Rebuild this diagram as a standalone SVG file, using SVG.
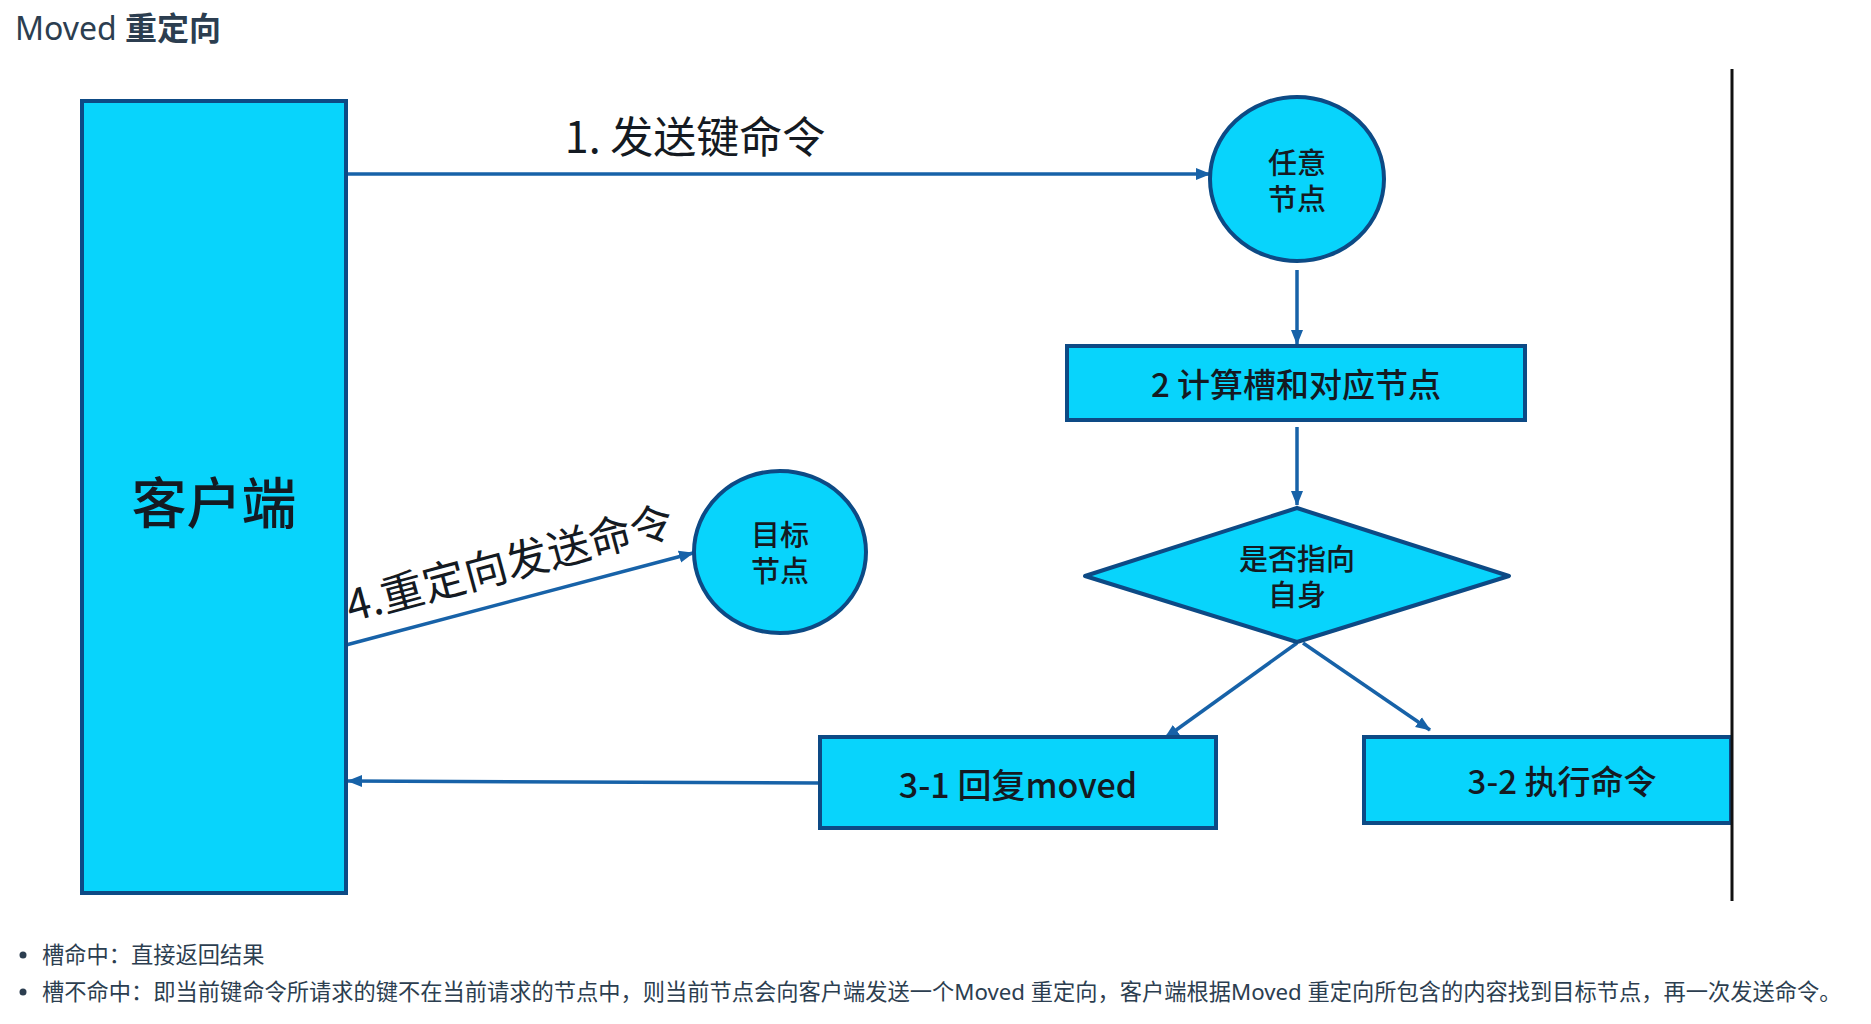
<svg xmlns="http://www.w3.org/2000/svg" width="1871" height="1024" viewBox="0 0 1871 1024">
<style>
  .node { fill: #08D4FC; stroke: #0D4A85; stroke-width: 4; }
  .lbl { font-family: "Noto Sans CJK SC", "Noto Sans", sans-serif; fill: #141a22; text-anchor: middle; dominant-baseline: central; font-weight: 500; }
  .conn { stroke: #1762A8; stroke-width: 3.5; fill: none; }
  .doc { font-family: "Noto Sans", "Noto Sans CJK SC", sans-serif; fill: #2c3e50; }
</style>
<defs>
  <marker id="ah" markerUnits="userSpaceOnUse" markerWidth="16" markerHeight="14" refX="14" refY="7" orient="auto">
    <path d="M0,1 L15,7 L0,13 Z" fill="#1762A8"/>
  </marker>
</defs>
<rect width="1871" height="1024" fill="#ffffff"/>

<text class="doc" x="15" y="40" font-size="32"><tspan>Moved </tspan><tspan font-family="Noto Sans CJK SC, sans-serif" font-weight="bold">重定向</tspan></text>

<g id="connectors">
  <line class="conn" x1="346" y1="174" x2="1210" y2="174" marker-end="url(#ah)"/>
  <line class="conn" x1="1297" y1="270" x2="1297" y2="344" marker-end="url(#ah)"/>
  <line class="conn" x1="1297" y1="427" x2="1297" y2="505" marker-end="url(#ah)"/>
  <line class="conn" x1="1297" y1="643" x2="1165" y2="738" marker-end="url(#ah)"/>
  <line class="conn" x1="1303" y1="643" x2="1430" y2="730" marker-end="url(#ah)"/>
  <line class="conn" x1="820" y1="783" x2="348" y2="781" marker-end="url(#ah)"/>
  <line class="conn" x1="346" y1="645" x2="693" y2="553" marker-end="url(#ah)"/>
  <text class="lbl" x="695" y="134" font-size="43" style="font-weight:400">1. 发送键命令</text>
  <text font-family="Noto Sans CJK SC, Noto Sans, sans-serif" fill="#141a22" font-size="43" x="351" y="622" transform="rotate(-15 351 622)">4.重定向发送命令</text>
</g>

<g id="client">
  <rect class="node" x="82" y="101" width="264" height="792"/>
  <text class="lbl" x="214" y="499" font-size="55">客户端</text>
</g>

<g id="any-node">
  <ellipse class="node" cx="1297" cy="179" rx="87" ry="82"/>
  <text class="lbl" font-size="29"><tspan x="1297" y="161">任意</tspan><tspan x="1297" y="197">节点</tspan></text>
</g>

<g id="calc">
  <rect class="node" x="1067" y="346" width="458" height="74"/>
  <text class="lbl" x="1296" y="383" font-size="33">2 计算槽和对应节点</text>
</g>

<g id="decision">
  <polygon class="node" points="1297,508 1509,576 1297,642 1085,576" stroke-linejoin="round"/>
  <text class="lbl" font-size="29"><tspan x="1297" y="557">是否指向</tspan><tspan x="1297" y="593">自身</tspan></text>
</g>

<g id="reply-moved">
  <rect class="node" x="820" y="737" width="396" height="91"/>
  <text class="lbl" x="1018" y="783" font-size="34">3-1 回复moved</text>
</g>

<g id="exec">
  <rect class="node" x="1364" y="737" width="367" height="86"/>
  <text class="lbl" x="1562" y="780" font-size="33">3-2 执行命令</text>
</g>

<g id="target-node">
  <ellipse class="node" cx="780" cy="552" rx="86" ry="81"/>
  <text class="lbl" font-size="29"><tspan x="780" y="533">目标</tspan><tspan x="780" y="569">节点</tspan></text>
</g>

<line x1="1732" y1="69" x2="1732" y2="901" stroke="#111111" stroke-width="3"/>

<g id="notes">
  <circle cx="23" cy="955" r="3.5" fill="#2c3e50"/>
  <text class="doc" x="42" y="963" font-size="22.25" font-family="Noto Sans CJK SC, sans-serif">槽命中：直接返回结果</text>
  <circle cx="23" cy="992" r="3.5" fill="#2c3e50"/>
  <text class="doc" x="42" y="1000" font-size="22.25" font-family="Noto Sans CJK SC, sans-serif">槽不命中：即当前键命令所请求的键不在当前请求的节点中，则当前节点会向客户端发送一个Moved 重定向，客户端根据Moved 重定向所包含的内容找到目标节点，再一次发送命令。</text>
</g>
</svg>
